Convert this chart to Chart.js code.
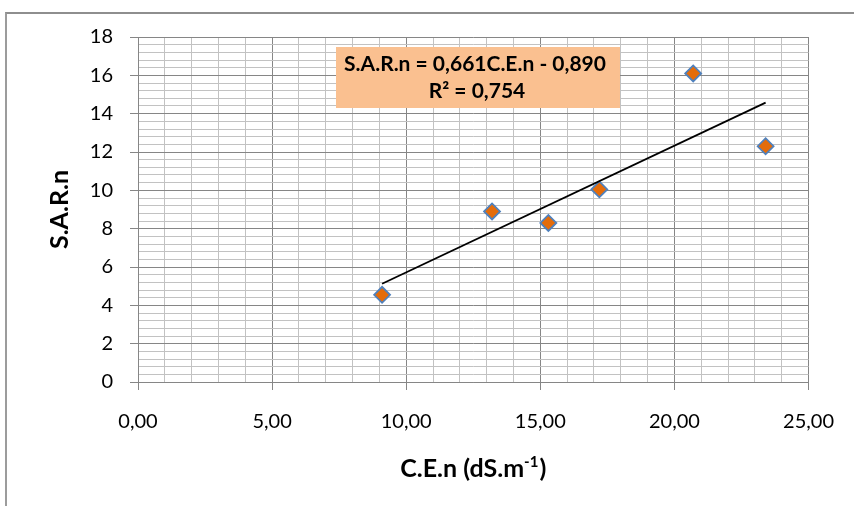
<!DOCTYPE html>
<html><head><meta charset="utf-8">
<script src="https://cdn.jsdelivr.net/npm/chart.js@4"></script>
<style>
html,body{margin:0;padding:0;background:#fff;overflow:hidden}
#wrap{position:relative;width:854px;height:506px;overflow:hidden}
canvas{position:absolute;left:0;top:0}
#frame{position:absolute;left:5px;top:12px;width:900px;height:600px;border-top:2px solid #8e8e8e;border-left:2px solid #9c9c9c;pointer-events:none}
</style></head><body>
<div id="wrap"><canvas id="c" width="854" height="506"></canvas><div id="frame"></div></div>
<script>
// ---- data ----
const ceValues  = [9.1, 13.2, 15.3, 17.2, 20.7, 23.4];   // C.E.n (dS.m-1)
const sarValues = [4.55, 8.9, 8.3, 10.05, 16.1, 12.3];   // S.A.R.n
const trendSlope = 0.661;
const trendIntercept = -0.890;
const rSquared = 0.754;
const xMajorTicks = [0, 5, 10, 15, 20, 25];
const yMajorTicks = [0, 2, 4, 6, 8, 10, 12, 14, 16, 18];

const fmt = v => v.toFixed(3).replace('.', ',');
const eqLine1 = 'S.A.R.n = ' + fmt(trendSlope) + 'C.E.n ' + (trendIntercept < 0 ? '- ' : '+ ') + fmt(Math.abs(trendIntercept));
const eqLine2 = 'R\u00B2 = ' + fmt(rSquared);

const points = ceValues.map((x, i) => ({x, y: sarValues[i]}));
const xMin = Math.min(...ceValues), xMax = Math.max(...ceValues);
const trendPoints = [xMin, xMax].map(x => ({x, y: trendSlope * x + trendIntercept}));

const near = (v, arr) => arr.some(t => Math.abs(t - v) < 1e-6);
const MAJOR = '#868686', MINOR = '#c2c2c2';
const FONT = 'Lato';

const overlay = {
  id: 'overlay',
  beforeDatasetsDraw(chart) {
    const ctx = chart.ctx;
    ctx.save();
    ctx.fillStyle = '#FAC090';
    ctx.fillRect(336, 47, 284, 61);
    ctx.fillStyle = '#000';
    ctx.textAlign = 'center';
    ctx.textBaseline = 'middle';
    ctx.font = 'bold 21px ' + FONT;
    ctx.fillText(eqLine1, 475, 64);
    ctx.fillText(eqLine2, 477, 91);
    ctx.restore();
  },
  afterDraw(chart) {
    const ctx = chart.ctx;
    const xs = chart.scales.x;
    ctx.save();
    ctx.fillStyle = '#000';
    ctx.textBaseline = 'alphabetic';
    ctx.textAlign = 'left';
    const main = 'C.E.n (dS.m', sup = '-1', tail = ')';
    const fMain = 'bold 25px ' + FONT, fSup = 'bold 15px ' + FONT;
    ctx.font = fMain;
    const w1 = ctx.measureText(main).width, w3 = ctx.measureText(tail).width;
    ctx.font = fSup;
    const w2 = ctx.measureText(sup).width;
    const total = w1 + w2 + w3 + 1;
    let x = (xs.left + xs.right) / 2 - total / 2;
    const base = 477;
    ctx.font = fMain; ctx.fillText(main, x, base); x += w1;
    ctx.font = fSup; ctx.fillText(sup, x, base - 10); x += w2 + 1;
    ctx.font = fMain; ctx.fillText(tail, x, base);
    ctx.restore();
  }
};

new Chart(document.getElementById('c'), {
  type: 'scatter',
  data: {
    datasets: [
      {
        label: 'S.A.R.n',
        data: points,
        pointStyle: 'rectRot',
        pointRadius: 8,
        pointHoverRadius: 8,
        backgroundColor: '#E46C0A',
        borderColor: '#4F81BD',
        borderWidth: 1.75,
        order: 1
      },
      {
        label: 'trend',
        data: trendPoints,
        showLine: true,
        borderColor: '#000',
        borderWidth: 1.75,
        pointRadius: 0,
        fill: false,
        order: 0
      }
    ]
  },
  options: {
    responsive: false,
    animation: false,
    devicePixelRatio: 1,
    layout: {padding: {top: 37, right: 42, left: 0, bottom: 0}},
    plugins: {legend: {display: false}, tooltip: {enabled: false}},
    scales: {
      x: {
        type: 'linear', position: 'bottom', min: 0, max: 25,
        afterFit: s => { s.height = 124; },
        ticks: {
          stepSize: 1, autoSkip: false, maxRotation: 0, padding: 20,
          color: '#000', font: {family: FONT, size: 20},
          callback: v => near(v, xMajorTicks) ? v.toFixed(2).replace('.', ',') : ''
        },
        grid: {
          lineWidth: 1, tickLength: 8,
          color: c => near(c.tick.value, xMajorTicks) ? MAJOR : MINOR,
          tickColor: c => near(c.tick.value, xMajorTicks) ? MAJOR : 'rgba(0,0,0,0)'
        },
        border: {color: MAJOR, width: 1}
      },
      y: {
        type: 'linear', position: 'left', min: 0, max: 18,
        afterFit: s => { s.width = 138; },
        title: {display: true, text: 'S.A.R.n', color: '#000', font: {family: FONT, size: 25, weight: 'bold'}, padding: {top: 45, bottom: 0}},
        ticks: {
          stepSize: 0.4, autoSkip: false, padding: 17,
          color: '#000', font: {family: FONT, size: 20},
          callback: v => near(v, yMajorTicks) ? String(Math.round(v)) : ''
        },
        grid: {
          lineWidth: 1, tickLength: 8,
          color: c => near(c.tick.value, yMajorTicks) ? MAJOR : MINOR,
          tickColor: c => near(c.tick.value, yMajorTicks) ? MAJOR : 'rgba(0,0,0,0)'
        },
        border: {color: MAJOR, width: 1}
      }
    }
  },
  plugins: [overlay]
});
</script>
</body></html>
